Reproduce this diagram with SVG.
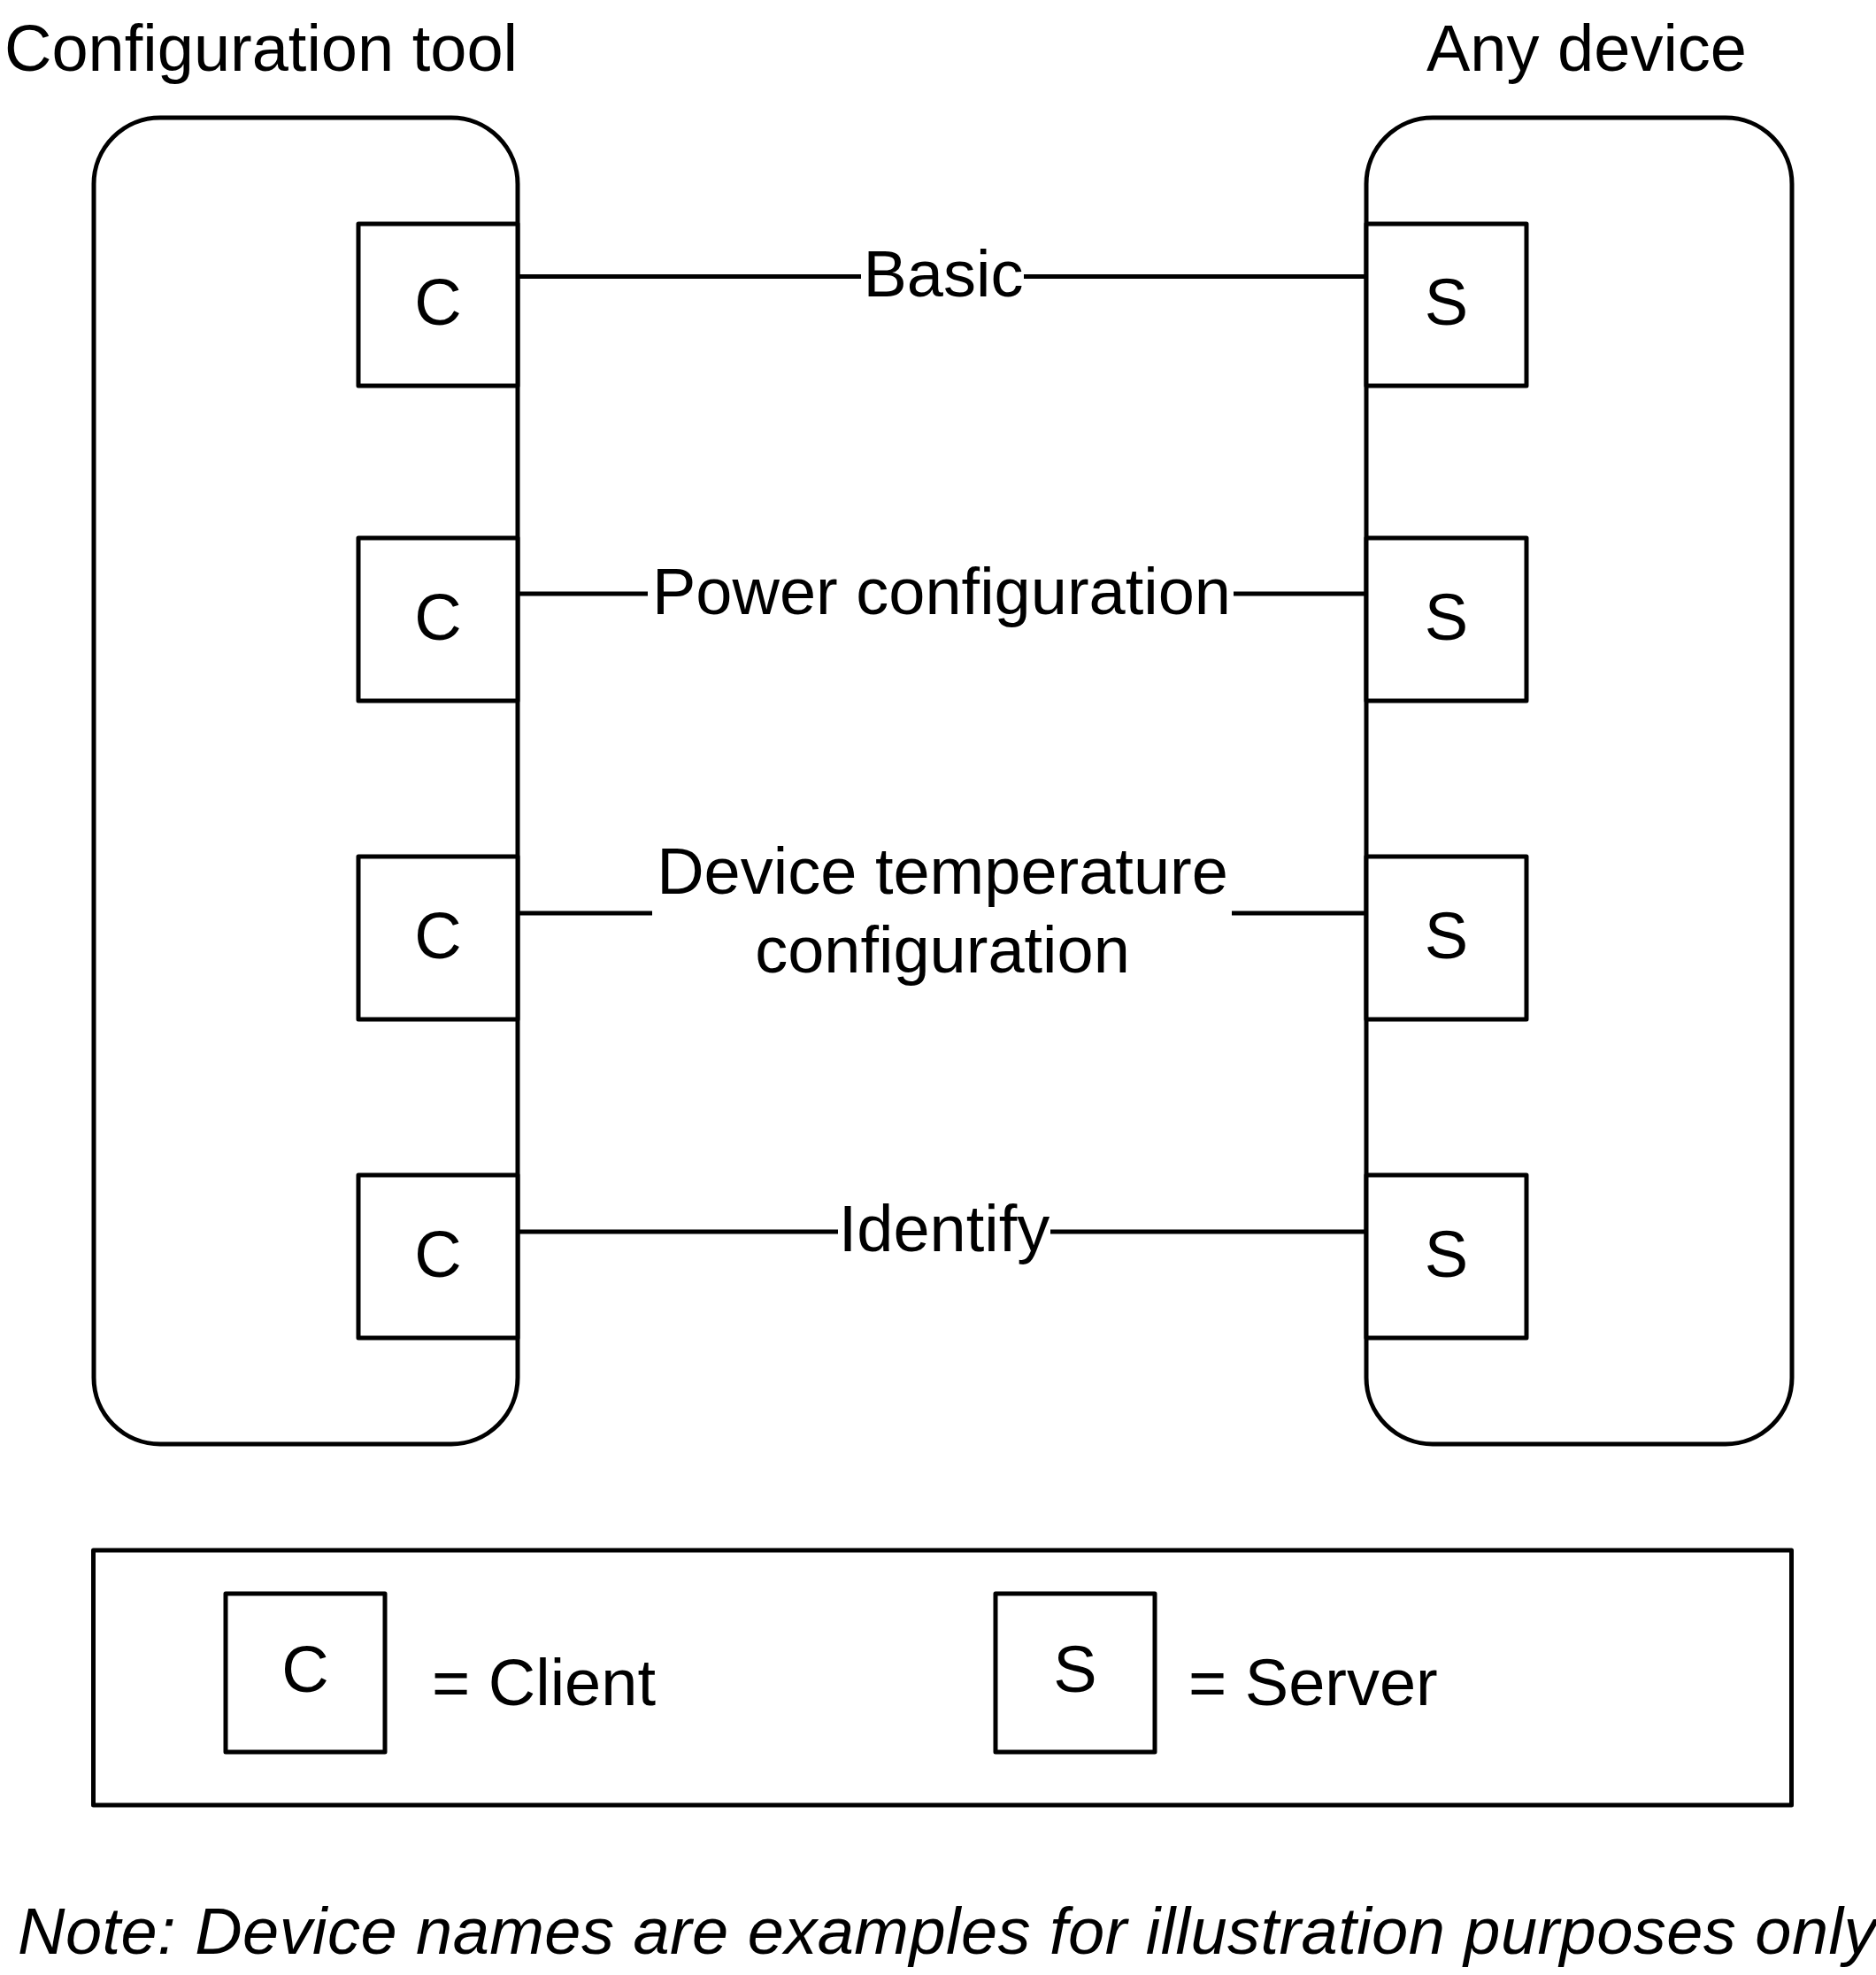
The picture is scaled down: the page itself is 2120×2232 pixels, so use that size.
<svg xmlns="http://www.w3.org/2000/svg" width="2120" height="2232" viewBox="0 0 2120 2232">
<style>
.box{fill:none;stroke:#000;stroke-width:5;stroke-linejoin:round}
.pbox{fill:#fff;stroke:#000;stroke-width:5;stroke-linejoin:round}
.ln{fill:none;stroke:#000;stroke-width:5}
text{font-family:"Liberation Sans",Arial,sans-serif;font-size:74px;fill:#000}
.m{text-anchor:middle}
.it{font-style:italic;letter-spacing:0.45px}
</style>
<rect width="2120" height="2232" fill="#fff"/>
<text x="5" y="80">Configuration tool</text>
<text x="1612" y="80">Any device</text>
<g id="config-tool">
<rect class="box" x="106" y="133" width="479" height="1499" rx="75" ry="75"/>
</g>
<g id="any-device">
<rect class="box" x="1544" y="133" width="481" height="1499" rx="75" ry="75"/>
</g>
<g id="c1"><rect class="pbox" x="405" y="253" width="180" height="183"/><text class="m" x="495" y="367">C</text></g>
<g id="c2"><rect class="pbox" x="405" y="608" width="180" height="184"/><text class="m" x="495" y="723">C</text></g>
<g id="c3"><rect class="pbox" x="405" y="968" width="180" height="184"/><text class="m" x="495" y="1083">C</text></g>
<g id="c4"><rect class="pbox" x="405" y="1328" width="180" height="184"/><text class="m" x="495" y="1443">C</text></g>
<g id="s1"><rect class="pbox" x="1544" y="253" width="181" height="183"/><text class="m" x="1634.5" y="367">S</text></g>
<g id="s2"><rect class="pbox" x="1544" y="608" width="181" height="184"/><text class="m" x="1634.5" y="723">S</text></g>
<g id="s3"><rect class="pbox" x="1544" y="968" width="181" height="184"/><text class="m" x="1634.5" y="1083">S</text></g>
<g id="s4"><rect class="pbox" x="1544" y="1328" width="181" height="184"/><text class="m" x="1634.5" y="1443">S</text></g>
<g id="connectors">
<path class="ln" d="M585 312.5H973M1157 312.5H1544"/>
<path class="ln" d="M585 671H732M1394 671H1544"/>
<path class="ln" d="M585 1032H737M1392 1032H1544"/>
<path class="ln" d="M585 1392H947M1187 1392H1544"/>
<text class="m" x="1066" y="335">Basic</text>
<text class="m" x="1064" y="694">Power configuration</text>
<text class="m" x="1065" y="1010">Device temperature</text>
<text class="m" x="1065" y="1099">configuration</text>
<text class="m" x="1067" y="1414">Identify</text>
</g>
<g id="legend">
<rect class="box" x="105.5" y="1752" width="1919" height="288"/>
<rect class="box" x="255" y="1801" width="180" height="179"/>
<text class="m" x="345" y="1912">C</text>
<text x="488" y="1927">= Client</text>
<rect class="box" x="1125" y="1801" width="180" height="179"/>
<text class="m" x="1215" y="1912">S</text>
<text x="1343" y="1927">= Server</text>
</g>
<text class="it" x="20" y="2208">Note: Device names are examples for illustration purposes only</text>
</svg>
